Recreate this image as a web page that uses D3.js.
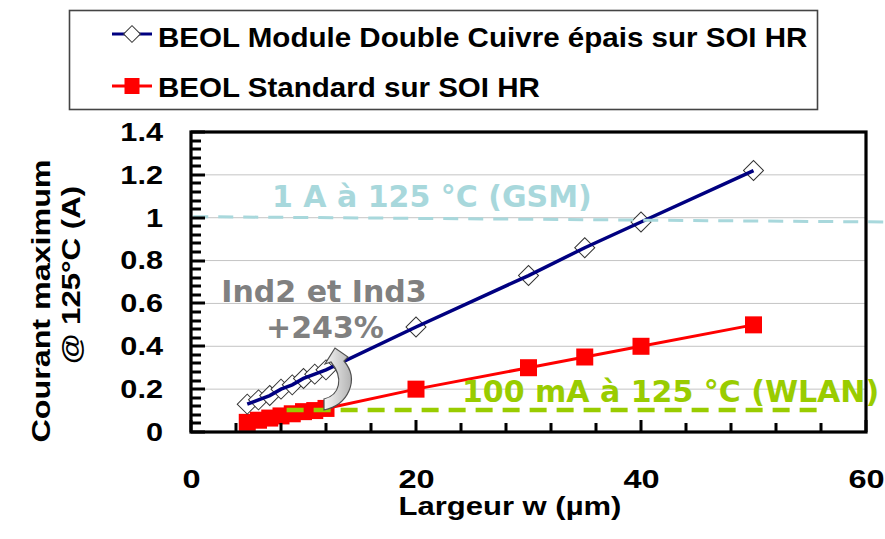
<!DOCTYPE html>
<html>
<head>
<meta charset="utf-8">
<script src="https://cdn.jsdelivr.net/npm/d3@7"></script>
<style>
  body { margin:0; background:#fff; }
  svg { display:block; }
  text { font-family:"Liberation Sans", Arial, sans-serif; font-weight:bold; }
  .verd { font-family:"DejaVu Sans", Verdana, sans-serif; }
</style>
</head>
<body>
<div id="container"></div>
<script>
/* DATA */
const seriesNames = ["BEOL Module Double Cuivre épais sur SOI HR", "BEOL Standard sur SOI HR"];
const widths = [5, 6, 7, 8, 9, 10, 11, 12, 20, 30, 35, 40, 50];
const doubleCu = [0.13, 0.15, 0.17, 0.20, 0.22, 0.25, 0.27, 0.29, 0.49, 0.73, 0.86, 0.98, 1.22];
const standard = [0.045, 0.055, 0.065, 0.075, 0.085, 0.095, 0.10, 0.11, 0.20, 0.30, 0.35, 0.40, 0.50];
const xTicks = [0, 20, 40, 60];
const yTicks = [0, 0.2, 0.4, 0.6, 0.8, 1, 1.2, 1.4];
const gsmLevel = 1.0, wlanLevel = 0.103;

/* CONSTANTS */
const width = 885, height = 539,
      margin = {top:132, bottom:107, left:191, right:19},
      innerWidth = width - margin.left - margin.right,
      innerHeight = height - margin.top - margin.bottom;

const svg = d3.select("#container").append("svg")
  .attr("width", width).attr("height", height);

const defs = svg.append("defs");
const grad = defs.append("linearGradient").attr("id","arrowGrad")
  .attr("x1","0").attr("y1","0").attr("x2","1").attr("y2","0");
grad.append("stop").attr("offset","0%").attr("stop-color","#f6f6f6");
grad.append("stop").attr("offset","100%").attr("stop-color","#b4b4b4");

// stretch arial-ish text horizontally like the original
function stretch(sel, k) {
  sel.each(function() {
    const w = this.getComputedTextLength();
    d3.select(this).attr("textLength", w * k).attr("lengthAdjust", "spacingAndGlyphs");
  });
}

/* SCALES */
const xScale = d3.scaleLinear().domain([0, 60]).range([margin.left, margin.left + innerWidth]);
const yScale = d3.scaleLinear().domain([0, 1.4]).range([margin.top + innerHeight, margin.top]);
const x0 = margin.left, yb = margin.top + innerHeight;

// gridlines
svg.selectAll("line.grid")
  .data(yTicks.filter(d => d > 0 && d < 1.4))
  .join("line")
    .attr("class","grid")
    .attr("x1", x0).attr("x2", x0 + innerWidth)
    .attr("y1", d => yScale(d)).attr("y2", d => yScale(d))
    .attr("stroke", "#c4c4c4").attr("stroke-width", 1);

/* SERIES: markers first, line drawn over */
const pts1 = widths.map((w, i) => ({x: w, y: doubleCu[i]}));
const pts2 = widths.map((w, i) => ({x: w, y: standard[i]}));
const lineGen = d3.line().x(d => xScale(d.x)).y(d => yScale(d.y));

svg.selectAll("rect.sq")
  .data(pts2)
  .join("rect")
    .attr("class","sq")
    .attr("x", d => xScale(d.x) - 8.5).attr("y", d => yScale(d.y) - 8.5)
    .attr("width", 17).attr("height", 17)
    .attr("fill", "#ff0000");
svg.append("path").datum(pts2)
  .attr("d", lineGen).attr("fill","none")
  .attr("stroke","#ff0000").attr("stroke-width",3);

svg.selectAll("path.dia")
  .data(pts1)
  .join("path")
    .attr("class","dia")
    .attr("transform", d => `translate(${xScale(d.x)},${yScale(d.y)}) rotate(45)`)
    .attr("d", d3.symbol().type(d3.symbolSquare).size(200))
    .attr("fill","#fff").attr("stroke","#333").attr("stroke-width",1);
svg.append("path").datum(pts1)
  .attr("d", lineGen).attr("fill","none")
  .attr("stroke","#000080").attr("stroke-width",3.5);

/* REFERENCE LINES */
svg.append("line")
  .attr("x1", xScale(0.2)).attr("x2", xScale(61.7))
  .attr("y1", yScale(gsmLevel + 0.005)).attr("y2", yScale(gsmLevel - 0.02))
  .attr("stroke","#a8d8dc").attr("stroke-width",3)
  .attr("stroke-dasharray","15,10");
svg.append("line")
  .attr("x1", xScale(8.5)).attr("x2", xScale(55.9))
  .attr("y1", yScale(wlanLevel)).attr("y2", yScale(wlanLevel))
  .attr("stroke","#99cc00").attr("stroke-width",4.5)
  .attr("stroke-dasharray","17,10");

/* ANNOTATIONS */
svg.append("text").attr("class","verd")
  .attr("x", 272).attr("y", 207)
  .attr("font-size", 30).attr("fill","#a8d8dc")
  .text("1 A à 125 °C (GSM)");
svg.append("text").attr("class","verd")
  .attr("x", 462).attr("y", 402)
  .attr("font-size", 30).attr("fill","#99cc00")
  .text("100 mA à 125 °C (WLAN)");
svg.append("text").attr("class","verd")
  .attr("x", 324).attr("y", 302).attr("text-anchor","middle")
  .attr("font-size", 30).attr("fill","#808080")
  .text("Ind2 et Ind3");
svg.append("text").attr("class","verd")
  .attr("x", 325).attr("y", 338).attr("text-anchor","middle")
  .attr("font-size", 30).attr("fill","#808080")
  .text("+243%");

// curved arrow
svg.append("path")
  .attr("d", "M324,410 C348,405 360,380 344,361 L348,357 L335,348 L325,364 L331,362 C344,378 340,395 324,399 Z")
  .attr("fill","url(#arrowGrad)").attr("stroke","#505050").attr("stroke-width",1.2);

/* PLOT BORDER */
svg.append("rect")
  .attr("x", x0).attr("y", margin.top).attr("width", innerWidth).attr("height", innerHeight)
  .attr("fill","none").attr("stroke","#000").attr("stroke-width",3.2);

/* TICK MARKS: inward comb built from the scales */
const isMult = (v, step) => Math.abs(v / step - Math.round(v / step)) < 1e-6;
const yMinorVals = d3.range(0, 1.401, 0.04);
const xMinorVals = d3.range(0, 61, 4);
const tickPath = d3.path();
yMinorVals.forEach(v => {
  const y = Math.round(yScale(v));
  tickPath.moveTo(x0, y);
  tickPath.lineTo(x0 + (isMult(v, 0.2) ? 14 : 10), y);
});
xMinorVals.forEach(v => {
  const x = Math.round(xScale(v));
  tickPath.moveTo(x, yb);
  tickPath.lineTo(x, yb - (isMult(v, 20) ? 12 : 9));
});
svg.append("path")
  .attr("class","ticks")
  .attr("d", tickPath.toString())
  .attr("fill","none").attr("stroke","#000").attr("stroke-width",3);

/* AXES (labels) */
const yAxis = svg.append("g").attr("transform", `translate(${x0},0)`)
  .call(d3.axisLeft(yScale).tickValues(yTicks).tickSize(0).tickPadding(28)
    .tickFormat(d => String(+d.toFixed(1))));
const xAxis = svg.append("g").attr("transform", `translate(0,${yb})`)
  .call(d3.axisBottom(xScale).tickValues(xTicks).tickSize(0).tickPadding(38));

[yAxis, xAxis].forEach(a => {
  a.select(".domain").remove();
  a.selectAll(".tick line").remove();
  a.selectAll(".tick text").attr("font-size",26).attr("fill","#000");
});
stretch(yAxis.selectAll(".tick text"), 1.18);
stretch(xAxis.selectAll(".tick text"), 1.25);

// axis titles
const xt = svg.append("text")
  .attr("x", 510).attr("y", 515).attr("text-anchor","middle")
  .attr("font-size", 25)
  .text("Largeur w (µm)");
stretch(xt, 1.24);
const yt1 = svg.append("text")
  .attr("transform","translate(50,301) rotate(-90)").attr("text-anchor","middle")
  .attr("font-size", 26)
  .text("Courant maximum");
stretch(yt1, 1.24);
const yt2 = svg.append("text")
  .attr("transform","translate(80,275) rotate(-90)").attr("text-anchor","middle")
  .attr("font-size", 26)
  .text("@ 125°C (A)");
stretch(yt2, 1.2);

/* LEGEND */
const legend = svg.append("g");
legend.append("rect")
  .attr("x",69.5).attr("y",10.5).attr("width",748).attr("height",99)
  .attr("fill","#fff").attr("stroke","#444").attr("stroke-width",1.6);
const legRows = [
  {name: seriesNames[0], y: 34, base: 47},
  {name: seriesNames[1], y: 86, base: 97}
];
legRows.forEach((r, i) => {
  legend.append("line")
    .attr("x1",112).attr("x2",152).attr("y1",r.y).attr("y2",r.y)
    .attr("stroke", i === 0 ? "#000080" : "#ff0000").attr("stroke-width",3);
  if (i === 0) {
    legend.append("path")
      .attr("transform", `translate(132,${r.y}) rotate(45)`)
      .attr("d", d3.symbol().type(d3.symbolSquare).size(140))
      .attr("fill","#fff").attr("stroke","#333").attr("stroke-width",1);
  } else {
    legend.append("rect")
      .attr("x",124.5).attr("y",r.y - 8).attr("width",15).attr("height",16)
      .attr("fill","#ff0000");
  }
  const t = legend.append("text")
    .attr("x",158).attr("y",r.base)
    .attr("font-size",28).attr("fill","#000")
    .text(r.name);
  stretch(t, 1.055);
});
</script>
</body>
</html>
